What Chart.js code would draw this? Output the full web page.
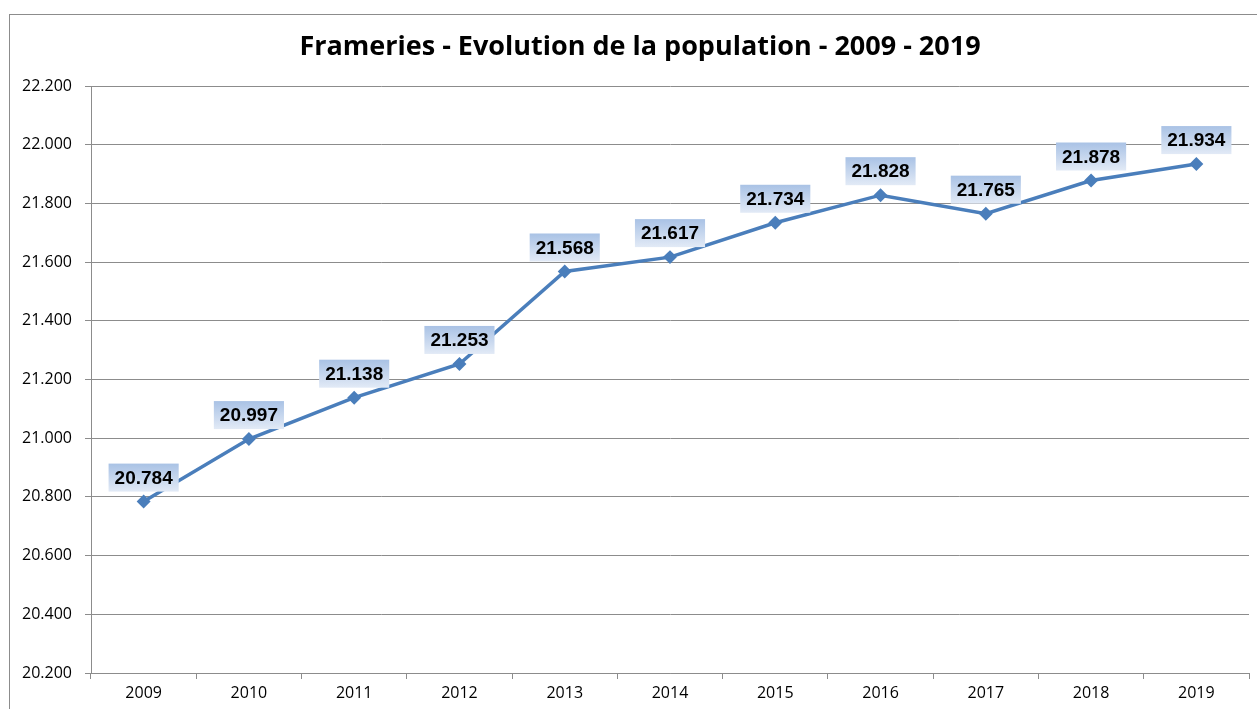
<!DOCTYPE html>
<html>
<head>
<meta charset="utf-8">
<script src="https://cdn.jsdelivr.net/npm/chart.js@4"></script>
<style>
  body { margin: 0; background: #fff; }
  #wrap { position: relative; width: 1257px; height: 709px; }
</style>
</head>
<body>
<div id="wrap"><canvas id="popChart" width="1257" height="709"></canvas></div>
<script>
// Données
const years = ['2009', '2010', '2011', '2012', '2013', '2014', '2015', '2016', '2017', '2018', '2019'];
const population = [20784, 20997, 21138, 21253, 21568, 21617, 21734, 21828, 21765, 21878, 21934];
const yMin = 20200;
const yMax = 22200;
const yStep = 200;
const titleText = 'Frameries - Evolution de la population - 2009 - 2019';

// Format belge : 21.568
function fmt(v) {
    return String(v).replace(/\B(?=(\d{3})+(?!\d))/g, '.');
}

// Cadre gris + titre (centré sur le cadre, qui dépasse à droite)
const framePlugin = {
    id: 'frame',
    beforeDraw(chart) {
        const c = chart.ctx;
        c.save();
        c.fillStyle = '#fff';
        c.fillRect(0, 0, chart.width, chart.height);
        c.strokeStyle = '#8c8c8c';
        c.lineWidth = 1;
        c.strokeRect(9.5, 14.5, chart.width + 10, chart.height + 10);
        c.fillStyle = '#000';
        c.font = 'bold 27px "Open Sans", sans-serif';
        c.textAlign = 'center';
        c.textBaseline = 'middle';
        c.fillText(titleText, 640, 47);
        c.restore();
    }
};

// Étiquettes de valeurs avec fond dégradé bleu
const labelPlugin = {
    id: 'valueLabels',
    afterDatasetsDraw(chart) {
        const c = chart.ctx;
        const meta = chart.getDatasetMeta(0);
        c.save();
        c.font = 'bold 19px "Liberation Sans", Arial, sans-serif';
        c.textAlign = 'center';
        c.textBaseline = 'middle';
        meta.data.forEach((pt, i) => {
            const txt = fmt(population[i]);
            const w = c.measureText(txt).width + 12;
            const h = 28;
            const cx = pt.x;
            const cy = pt.y - 24;
            const g = c.createLinearGradient(0, cy - h / 2, 0, cy + h / 2);
            g.addColorStop(0, '#a9c2e5');
            g.addColorStop(1, '#e2eaf6');
            c.fillStyle = g;
            c.fillRect(cx - w / 2, cy - h / 2, w, h);
            c.fillStyle = '#000';
            c.fillText(txt, cx, cy + 1);
        });
        c.restore();
    }
};

const ctx = document.getElementById('popChart').getContext('2d');
const popChart = new Chart(ctx, {
    type: 'line',
    data: {
        labels: years,
        datasets: [{
            data: population,
            borderColor: '#4a7ebb',
            backgroundColor: '#4a7ebb',
            borderWidth: 3.5,
            pointStyle: 'rectRot',
            pointRadius: 4.5,
            pointHoverRadius: 4.5,
            tension: 0,
        }],
    },
    options: {
        responsive: false,
        animation: false,
        events: [],
        layout: {
            padding: { left: 0, right: 8, top: 86, bottom: 0 },
        },
        plugins: {
            legend: { display: false },
            tooltip: { enabled: false },
            title: { display: false },
        },
        scales: {
            x: {
                offset: true,
                afterFit(scale) { scale.height = 36; },
                grid: {
                    offset: true,
                    drawOnChartArea: false,
                    drawTicks: true,
                    tickLength: 6,
                    color: '#8c8c8c',
                },
                border: { color: '#8c8c8c', width: 1 },
                ticks: {
                    color: '#000',
                    padding: 5,
                    maxRotation: 0,
                    font: { family: '"Open Sans", sans-serif', size: 16 },
                },
            },
            y: {
                min: yMin,
                max: yMax,
                afterFit(scale) { scale.width = 91; },
                grid: {
                    color: '#8c8c8c',
                    drawTicks: true,
                    tickLength: 6,
                },
                border: { color: '#8c8c8c', width: 1 },
                ticks: {
                    stepSize: yStep,
                    color: '#000',
                    padding: 13,
                    font: { family: '"Open Sans", sans-serif', size: 16 },
                    callback: (v) => fmt(v),
                },
            },
        },
    },
    plugins: [framePlugin, labelPlugin],
});
</script>
</body>
</html>
